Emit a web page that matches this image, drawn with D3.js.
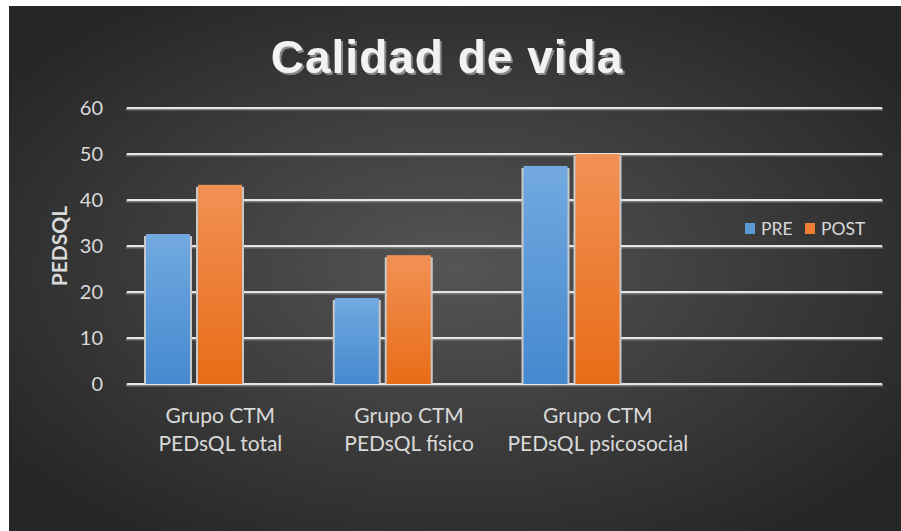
<html>
    <head>
        <title>Calidad de vida</title>
        <script type="text/javascript" src="https://cdn.jsdelivr.net/npm/d3@7"></script>
        <style type="text/css">
            body { margin: 0; background: #ffffff; }
            svg { display: block; }
        </style>
    </head>
    <body>
        <script type="text/javascript">

            var categories = ["Grupo CTM|PEDsQL total", "Grupo CTM|PEDsQL físico", "Grupo CTM|PEDsQL psicosocial", ""];
            var seriesNames = ["PRE", "POST"];
            var preValues = [32.6, 18.7, 47.4];
            var postValues = [43.3, 28.0, 50.0];
            var yTicks = [0, 10, 20, 30, 40, 50, 60];

            function makeChart() {
                var width = 901;
                var height = 531;
                var plot = {left: 127, right: 882, top: 108, bottom: 384};

                var svg = d3.select('body')
                    .append('svg')
                        .attr('width', width)
                        .attr('height', height);

                var defs = svg.append('defs');

                var bg = defs.append('radialGradient')
                    .attr('id', 'bg')
                    .attr('cx', '50%').attr('cy', '50%').attr('r', '62%');
                bg.append('stop').attr('offset', '0%').attr('stop-color', '#555555');
                bg.append('stop').attr('offset', '100%').attr('stop-color', '#262626');

                function barGradient(id, top, bottom) {
                    var g = defs.append('linearGradient')
                        .attr('id', id)
                        .attr('x1', 0).attr('y1', 0).attr('x2', 0).attr('y2', 1);
                    g.append('stop').attr('offset', '0%').attr('stop-color', top);
                    g.append('stop').attr('offset', '100%').attr('stop-color', bottom);
                }
                barGradient('gradPre', '#72a9e0', '#4589cf');
                barGradient('gradPost', '#f29155', '#e86c17');

                var shadow = defs.append('filter').attr('id', 'titleShadow')
                    .attr('x', '-10%').attr('y', '-20%').attr('width', '120%').attr('height', '150%');
                shadow.append('feDropShadow')
                    .attr('dx', 2).attr('dy', 2).attr('stdDeviation', 0.6)
                    .attr('flood-color', '#8a8a8a').attr('flood-opacity', 1);

                svg.append('rect')
                    .attr('x', 9).attr('y', 6)
                    .attr('width', width - 9).attr('height', height - 6)
                    .attr('fill', 'url(#bg)');

                var yScale = d3.scaleLinear()
                    .domain([0, 60])
                    .range([plot.bottom, plot.top]);

                var xScale = d3.scaleBand()
                    .domain(categories)
                    .range([plot.left, plot.right])
                    .padding(0);

                var inner = d3.scaleBand()
                    .domain(["PRE", "POST", "empty"])
                    .range([19, 167])
                    .paddingInner(0.154);

                // gridlines
                var grid = svg.append('g').attr('id', 'grid');
                grid.selectAll('line.shade')
                    .data(yTicks)
                    .enter()
                    .append('line')
                        .attr('x1', plot.left - 1).attr('x2', plot.right + 1)
                        .attr('y1', function(d) { return yScale(d) + 1; })
                        .attr('y2', function(d) { return yScale(d) + 1; })
                        .attr('stroke', '#7a7a7a')
                        .attr('stroke-width', 3);
                grid.selectAll('line.main')
                    .data(yTicks)
                    .enter()
                    .append('line')
                        .attr('x1', plot.left).attr('x2', plot.right)
                        .attr('y1', function(d) { return yScale(d); })
                        .attr('y2', function(d) { return yScale(d); })
                        .attr('stroke', '#e6e6e6')
                        .attr('stroke-width', 2);

                var yAxis = d3.axisLeft(yScale).tickValues(yTicks).tickSize(0).tickPadding(0);
                svg.append('g')
                    .attr('transform', 'translate(103,0)')
                    .call(yAxis)
                    .call(function(g) { g.select('.domain').remove(); })
                    .selectAll('text')
                        .attr('fill', '#d9d9d9')
                        .attr('font-family', 'Lato, "Open Sans", sans-serif')
                        .attr('font-size', 20)
                        .attr('dy', '0.34em');

                var data = [];
                categories.forEach(function(c, i) {
                    if (i < preValues.length) {
                        data.push({cat: c, key: "PRE", value: preValues[i]});
                        data.push({cat: c, key: "POST", value: postValues[i]});
                    }
                });

                var bars = svg.append('g').attr('id', 'bars');
                // light frame behind bars
                bars.selectAll('rect.frame')
                    .data(data)
                    .enter()
                    .append('rect')
                        .attr('x', function(d) { return xScale(d.cat) + inner(d.key) - 2; })
                        .attr('y', function(d) { return yScale(d.value) + 2; })
                        .attr('width', inner.bandwidth() + 4)
                        .attr('height', function(d) { return plot.bottom - yScale(d.value) - 2; })
                        .attr('fill', '#c8c8c8');
                bars.selectAll('rect.bar')
                    .data(data)
                    .enter()
                    .append('rect')
                        .attr('x', function(d) { return xScale(d.cat) + inner(d.key); })
                        .attr('y', function(d) { return yScale(d.value); })
                        .attr('width', inner.bandwidth())
                        .attr('height', function(d) { return plot.bottom - yScale(d.value); })
                        .attr('fill', function(d) { return d.key === "PRE" ? 'url(#gradPre)' : 'url(#gradPost)'; });

                // category labels
                var labels = svg.append('g').attr('id', 'xlabels');
                labels.selectAll('text')
                    .data(categories.filter(function(c) { return c !== ""; }))
                    .enter()
                    .append('text')
                        .attr('text-anchor', 'middle')
                        .attr('fill', '#d9d9d9')
                        .attr('font-family', 'Lato, "Open Sans", sans-serif')
                        .attr('font-size', 21)
                        .each(function(d) {
                            var cx = xScale(d) + xScale.bandwidth() / 2 - 1;
                            var parts = d.split('|');
                            d3.select(this).append('tspan').attr('x', cx).attr('y', 423).text(parts[0]);
                            d3.select(this).append('tspan').attr('x', cx).attr('y', 451).text(parts[1]);
                        });

                // y axis title
                svg.append('text')
                    .attr('transform', 'translate(67,246) rotate(-90)')
                    .attr('text-anchor', 'middle')
                    .attr('fill', '#d9d9d9')
                    .attr('font-family', 'Lato, "Open Sans", sans-serif')
                    .attr('font-weight', 'bold')
                    .attr('font-size', 21)
                    .text('PEDSQL');

                // title
                svg.append('text')
                    .attr('x', 447)
                    .attr('y', 73)
                    .attr('text-anchor', 'middle')
                    .attr('fill', '#f2f2f2')
                    .attr('font-family', '"Liberation Sans", Arial, sans-serif')
                    .attr('font-weight', 'bold')
                    .attr('font-size', 46)
                    .attr('letter-spacing', 1)
                    .attr('filter', 'url(#titleShadow)')
                    .text('Calidad de vida');

                // legend
                var legendColors = {PRE: '#5b9bd5', POST: '#ed7d31'};
                var legendX = [745, 805];
                var legend = svg.append('g').attr('id', 'legend');
                seriesNames.forEach(function(s, i) {
                    legend.append('rect')
                        .attr('x', legendX[i]).attr('y', 223)
                        .attr('width', 10).attr('height', 11)
                        .attr('fill', legendColors[s]);
                    legend.append('text')
                        .attr('x', legendX[i] + 16).attr('y', 235)
                        .attr('fill', '#d9d9d9')
                        .attr('font-family', 'Lato, "Open Sans", sans-serif')
                        .attr('font-size', 17.5)
                        .text(s);
                });
            }

            makeChart();

        </script>
    </body>
</html>
